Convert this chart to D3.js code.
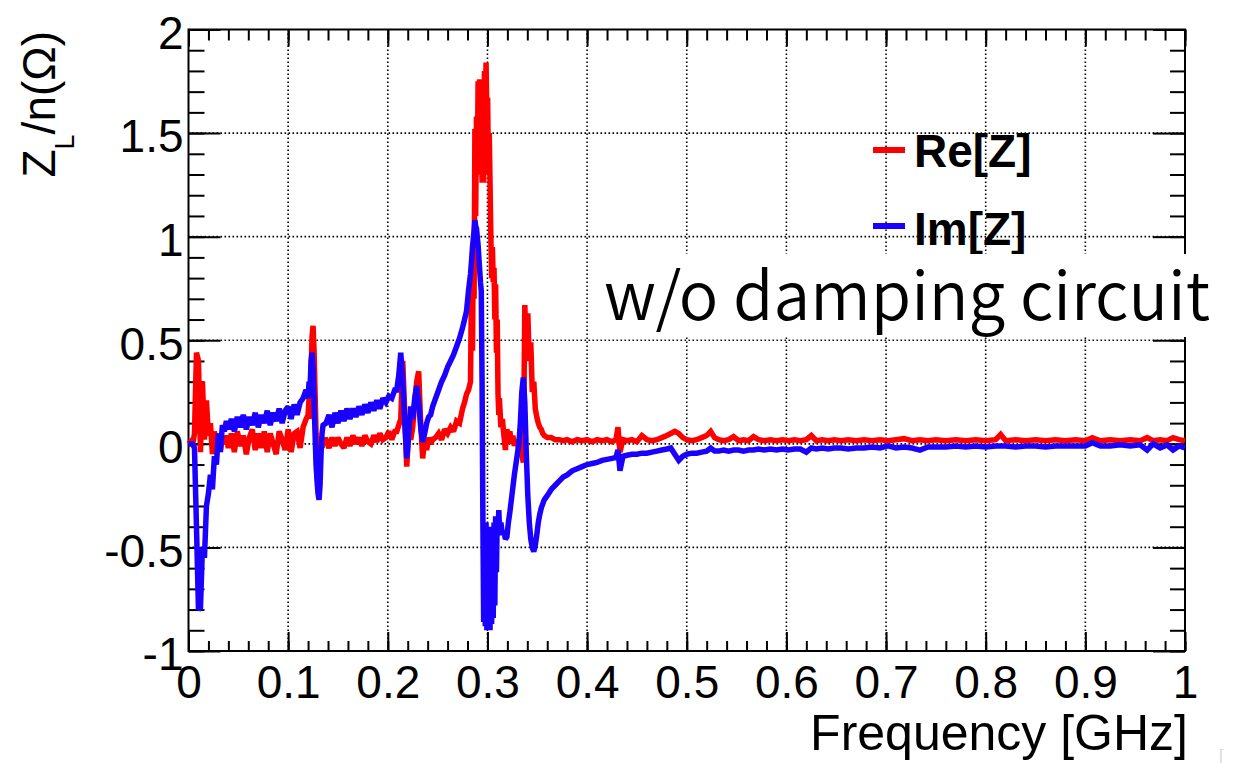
<!DOCTYPE html>
<html>
<head>
<meta charset="utf-8">
<script src="https://cdn.jsdelivr.net/npm/d3@7/dist/d3.min.js"></script>
<style>
  html, body { margin: 0; padding: 0; background: #fff; }
  svg { display: block; font-family: "Liberation Sans", Arial, Helvetica, sans-serif; }
</style>
</head>
<body>
<svg id="chart" width="1250" height="763"></svg>
<script>
// frequency points [GHz]
var freq = [
  0, 0.002, 0.004, 0.006, 0.008, 0.010, 0.012, 0.014, 0.016, 0.018, 0.020, 0.022, 0.024, 0.026, 0.028, 0.030, 0.032, 0.034, 0.036, 0.038, 0.040,
  0.043, 0.046, 0.049, 0.052, 0.055, 0.058, 0.061, 0.064, 0.067, 0.070, 0.073, 0.076, 0.079, 0.082, 0.085, 0.088, 0.091, 0.094, 0.097, 0.100, 0.103, 0.106, 0.109, 0.112, 0.115, 0.118,
  0.120, 0.121, 0.122, 0.123, 0.124, 0.125, 0.126, 0.127, 0.128, 0.129, 0.130, 0.131, 0.132, 0.133, 0.134, 0.135,
  0.138, 0.141, 0.144, 0.147, 0.150, 0.153, 0.156, 0.159, 0.162, 0.165, 0.168, 0.171, 0.174, 0.177, 0.180, 0.183, 0.186, 0.189, 0.192, 0.195, 0.198, 0.201, 0.204, 0.207,
  0.209, 0.211, 0.213, 0.215, 0.217, 0.219, 0.221, 0.223, 0.225, 0.227, 0.229, 0.231, 0.233, 0.235, 0.237, 0.239, 0.241, 0.243, 0.245,
  0.248, 0.251, 0.254, 0.257, 0.260, 0.263, 0.266, 0.269, 0.272, 0.275,
  0.277, 0.279, 0.281,
  0.283, 0.284, 0.285, 0.2858, 0.2866, 0.2874, 0.2882, 0.289, 0.2898, 0.2906, 0.2914, 0.2922, 0.293, 0.2938, 0.2946, 0.2954, 0.2962, 0.297, 0.2978, 0.2986,
  0.2994, 0.3002, 0.301, 0.3018, 0.3026, 0.3034, 0.3042, 0.305, 0.3058, 0.3066, 0.3074, 0.3082, 0.309, 0.3098, 0.3106, 0.3114, 0.312,
  0.3135, 0.315, 0.3165, 0.318, 0.3195, 0.321, 0.3225, 0.324, 0.3255, 0.327, 0.3285, 0.330, 0.3315, 0.333, 0.3345, 0.336, 0.3375,
  0.339, 0.3405, 0.342, 0.3435, 0.345, 0.3465, 0.348, 0.3495, 0.351, 0.3525, 0.354, 0.3555, 0.357, 0.360,
  0.364, 0.368, 0.372, 0.376, 0.380, 0.385, 0.390, 0.395, 0.400, 0.405,
  0.410, 0.415, 0.420, 0.425, 0.429, 0.431, 0.433, 0.436, 0.440, 0.445,
  0.450, 0.455, 0.460, 0.465, 0.470, 0.475, 0.480, 0.484, 0.488, 0.492,
  0.496, 0.500, 0.505, 0.510, 0.515, 0.520, 0.524, 0.528, 0.532, 0.537,
  0.542, 0.547, 0.552, 0.557, 0.562, 0.567, 0.572, 0.578, 0.584, 0.590,
  0.596, 0.602, 0.608, 0.614, 0.620, 0.625, 0.630, 0.636, 0.642, 0.648,
  0.655, 0.662, 0.670, 0.678, 0.686, 0.694, 0.702, 0.710, 0.718, 0.726,
  0.734, 0.742, 0.750, 0.760, 0.770, 0.780, 0.790, 0.800, 0.810, 0.815,
  0.820, 0.830, 0.840, 0.850, 0.860, 0.870, 0.880, 0.890, 0.900, 0.907,
  0.915, 0.925, 0.935, 0.945, 0.955, 0.962, 0.968, 0.975, 0.982, 0.988,
  0.994, 1.0
];

// Re[Z] (ohm)
var reZ = [
  0.00, 0.01, -0.01, 0.05, 0.44, 0.40, -0.04, 0.30, 0.02, 0.21, 0.04, 0.10, -0.05, 0.06, -0.02, 0.05, -0.03, 0.03, 0.00, 0.04, -0.02,
  0.05, -0.04, 0.06, -0.01, 0.04, -0.05, 0.03, 0.07, -0.03, 0.05, -0.02, 0.06, -0.04, 0.05, 0.00, -0.05, 0.06, 0.02, -0.03, 0.07, -0.04, 0.05, 0.06, -0.02, 0.08, 0.12,
  0.14, 0.22, 0.12, 0.35, 0.52, 0.57, 0.45, 0.25, 0.05, -0.03, -0.08, -0.11, -0.04, 0.03, -0.02, 0.02,
  0.02, -0.02, 0.03, -0.01, 0.03, 0.00, -0.02, 0.03, -0.01, 0.04, 0.00, 0.03, -0.01, 0.04, 0.01, 0.00, 0.04, 0.01, 0.05, 0.02, 0.03, 0.06, 0.02, 0.06,
  0.06, 0.09, 0.12, 0.40, 0.15, -0.11, 0.05, 0.02, 0.08, 0.20, 0.30, 0.35, 0.10, -0.07, 0.02, -0.03, 0.03, 0.00, 0.02,
  0.03, 0.05, 0.02, 0.07, 0.05, 0.08, 0.06, 0.11, 0.10, 0.17,
  0.20, 0.24, 0.26,
  0.30, 0.78, 0.45, 0.95, 0.70, 1.52, 1.10, 1.58, 1.30, 1.75, 1.45, 1.76, 1.50, 1.70, 1.26, 1.60, 1.26, 1.80, 1.55, 1.84,
  1.60, 1.67, 1.30, 1.50, 1.26, 1.00, 0.80, 0.95, 0.78, 0.85, 0.60, 0.77, 0.44, 0.60, 0.24, 0.14, 0.22,
  0.08, 0.12, 0.04, -0.03, 0.07, 0.03, 0.06, 0.00, 0.04, -0.01, 0.02, 0.00, -0.02, 0.04, -0.05, -0.09, 0.67,
  0.45, 0.63, 0.40, 0.49, 0.25, 0.30, 0.17, 0.13, 0.10, 0.08, 0.07, 0.05, 0.04, 0.03,
  0.03, 0.02, 0.02, 0.015, 0.02, 0.01, 0.02, 0.015, 0.02, 0.01,
  0.02, 0.015, 0.02, 0.01, 0.02, 0.08, -0.04, 0.02, 0.015, 0.02,
  0.01, 0.04, 0.02, 0.015, 0.02, 0.03, 0.04, 0.05, 0.06, 0.05,
  0.03, 0.02, 0.015, 0.02, 0.03, 0.04, 0.06, 0.03, 0.02, 0.015,
  0.02, 0.035, 0.015, 0.02, 0.015, 0.035, 0.02, 0.015, 0.02, 0.015,
  0.02, 0.015, 0.02, 0.015, 0.02, 0.04, 0.015, 0.02, 0.015, 0.02,
  0.015, 0.02, 0.015, 0.02, 0.015, 0.02, 0.015, 0.02, 0.025, 0.015,
  0.02, 0.015, 0.02, 0.015, 0.02, 0.015, 0.02, 0.015, 0.02, 0.045,
  0.015, 0.02, 0.015, 0.02, 0.015, 0.02, 0.015, 0.02, 0.015, 0.03,
  0.015, 0.02, 0.015, 0.02, 0.015, 0.03, 0.015, 0.02, 0.015, 0.03,
  0.02, 0.015
];

// Im[Z] (ohm)
var imZ = [
  0.00, 0.00, 0.00, -0.02, -0.40, -0.80, -0.79, -0.50, -0.55, -0.30, -0.24, -0.15, -0.22, -0.06, -0.10, 0.05, -0.04, 0.09, 0.06, 0.11, 0.07,
  0.12, 0.06, 0.13, 0.08, 0.14, 0.07, 0.13, 0.09, 0.15, 0.08, 0.14, 0.10, 0.16, 0.09, 0.15, 0.11, 0.17, 0.10, 0.16, 0.18, 0.12, 0.19, 0.14, 0.20, 0.22, 0.26,
  0.22, 0.30, 0.27, 0.40, 0.44, 0.36, 0.20, 0.05, -0.10, -0.18, -0.24, -0.27, -0.20, -0.05, 0.05, 0.09,
  0.10, 0.14, 0.08, 0.15, 0.10, 0.16, 0.11, 0.17, 0.12, 0.17, 0.13, 0.18, 0.14, 0.19, 0.15, 0.20, 0.16, 0.21, 0.17, 0.22, 0.20, 0.23, 0.22, 0.26,
  0.26, 0.33, 0.44, 0.30, 0.10, -0.07, 0.05, 0.18, 0.12, 0.22, 0.28, 0.20, 0.08, 0.01, 0.05, 0.10, 0.13, 0.14, 0.18,
  0.22, 0.26, 0.30, 0.33, 0.37, 0.40, 0.43, 0.47, 0.51, 0.56,
  0.60, 0.64, 0.74,
  0.82, 0.88, 0.95, 0.99, 1.03, 1.08, 1.05, 1.04, 1.00, 0.96, 0.90, 0.84, 0.78, 0.74, 0.30, -0.35, -0.86, -0.40, -0.88, -0.38,
  -0.90, -0.42, -0.89, -0.40, -0.90, -0.45, -0.87, -0.40, -0.84, -0.38, -0.78, -0.35, -0.62, -0.35, -0.42, -0.32, -0.40,
  -0.38, -0.44, -0.42, -0.46, -0.45, -0.38, -0.33, -0.27, -0.21, -0.15, -0.10, -0.05, 0.00, 0.10, 0.25, 0.32, 0.20,
  -0.05, -0.25, -0.38, -0.46, -0.50, -0.52, -0.49, -0.44, -0.38, -0.34, -0.31, -0.29, -0.27, -0.25,
  -0.22, -0.20, -0.18, -0.16, -0.15, -0.13, -0.12, -0.11, -0.10, -0.095,
  -0.09, -0.08, -0.075, -0.07, -0.065, -0.03, -0.13, -0.06, -0.055, -0.05,
  -0.05, -0.045, -0.045, -0.04, -0.035, -0.03, -0.025, -0.02, -0.05, -0.08,
  -0.06, -0.05, -0.045, -0.045, -0.04, -0.035, -0.02, -0.035, -0.035, -0.03,
  -0.035, -0.03, -0.03, -0.035, -0.03, -0.03, -0.025, -0.03, -0.025, -0.03,
  -0.025, -0.03, -0.025, -0.025, -0.04, -0.02, -0.025, -0.02, -0.025, -0.02,
  -0.02, -0.025, -0.02, -0.02, -0.015, -0.02, -0.01, -0.02, -0.015, -0.02,
  -0.03, -0.015, -0.015, -0.015, -0.01, -0.015, -0.01, -0.015, -0.01, -0.01,
  -0.01, -0.015, -0.01, -0.01, -0.015, -0.01, -0.01, -0.01, -0.01, 0.005,
  -0.01, -0.01, -0.005, -0.01, -0.005, -0.03, 0.00, -0.02, -0.005, -0.03,
  -0.01, -0.02
];

var xTicks = [0, 0.1, 0.2, 0.3, 0.4, 0.5, 0.6, 0.7, 0.8, 0.9, 1];
var xTickLabels = ['0', '0.1', '0.2', '0.3', '0.4', '0.5', '0.6', '0.7', '0.8', '0.9', '1'];
var yTicks = [-1, -0.5, 0, 0.5, 1, 1.5, 2];
var yTickLabels = ['-1', '-0.5', '0', '0.5', '1', '1.5', '2'];
var seriesNames = ['Re[Z]', 'Im[Z]'];
var seriesColors = ['#ff0000', '#1a00ff'];

(function () {
  var svg = d3.select('#chart'),
      pl = 188.5, pr = 1185, pt = 29.5, pb = 651,
      x = d3.scaleLinear().domain([0, 1]).range([pl, pr]),
      y = d3.scaleLinear().domain([-1, 2]).range([pb, pt]);

  if (reZ.length !== freq.length || imZ.length !== freq.length) {
    console.error('length mismatch', freq.length, reZ.length, imZ.length);
  }

  // dotted grid
  var grid = svg.append('g').attr('stroke', '#000').attr('stroke-width', 1.6).attr('stroke-dasharray', '1.6 2.4');
  grid.selectAll('line.gx').data(xTicks.slice(1, -1)).enter().append('line')
    .attr('x1', function (d) { return x(d); }).attr('x2', function (d) { return x(d); })
    .attr('y1', pt).attr('y2', pb);
  grid.selectAll('line.gy').data(yTicks.slice(1, -1)).enter().append('line')
    .attr('y1', function (d) { return y(d); }).attr('y2', function (d) { return y(d); })
    .attr('x1', pl).attr('x2', pr);

  function strip(g) {
    g.select('.domain').remove();
    g.selectAll('line').attr('stroke', '#000').attr('stroke-width', 2);
  }

  // axes (ticks on all four sides, ROOT style)
  svg.append('g').attr('transform', 'translate(0,' + pb + ')')
    .call(d3.axisBottom(x).ticks(50).tickSize(-10).tickFormat('')).call(strip);
  var xAxis = svg.append('g').attr('transform', 'translate(0,' + pb + ')')
    .call(d3.axisBottom(x).tickValues(xTicks).tickSize(-19).tickPadding(14)
      .tickFormat(function (d, i) { return xTickLabels[i]; })).call(strip);
  svg.append('g').attr('transform', 'translate(0,' + pt + ')')
    .call(d3.axisTop(x).ticks(50).tickSize(-11).tickFormat('')).call(strip);
  svg.append('g').attr('transform', 'translate(0,' + pt + ')')
    .call(d3.axisTop(x).tickValues(xTicks).tickSize(-17).tickFormat('')).call(strip);

  svg.append('g').attr('transform', 'translate(' + pl + ',0)')
    .call(d3.axisLeft(y).ticks(30).tickSize(-16).tickFormat('')).call(strip);
  var yAxis = svg.append('g').attr('transform', 'translate(' + pl + ',0)')
    .call(d3.axisLeft(y).tickValues(yTicks).tickSize(-32).tickPadding(5)
      .tickFormat(function (d, i) { return yTickLabels[i]; })).call(strip);
  svg.append('g').attr('transform', 'translate(' + pr + ',0)')
    .call(d3.axisRight(y).ticks(30).tickSize(-15).tickFormat('')).call(strip);
  svg.append('g').attr('transform', 'translate(' + pr + ',0)')
    .call(d3.axisRight(y).tickValues(yTicks).tickSize(-32).tickFormat('')).call(strip);

  xAxis.selectAll('text').attr('font-size', 46).attr('fill', '#000')
    .attr('font-family', '"Liberation Sans", Arial, sans-serif');
  yAxis.selectAll('text').attr('font-size', 46).attr('fill', '#000').attr('dy', '0.41em')
    .attr('font-family', '"Liberation Sans", Arial, sans-serif');

  // frame
  svg.append('rect').attr('x', pl).attr('y', pt)
    .attr('width', pr - pl).attr('height', pb - pt)
    .attr('fill', 'none').attr('stroke', '#000').attr('stroke-width', 2);

  // curves
  var line = d3.line()
    .x(function (d) { return x(d[0]); })
    .y(function (d) { return y(d[1]); });

  [reZ, imZ].forEach(function (vals, k) {
    svg.append('path')
      .datum(freq.map(function (f, i) { return [f, vals[i]]; }))
      .attr('d', line)
      .attr('fill', 'none')
      .attr('stroke', seriesColors[k])
      .attr('stroke-width', 5.5)
      .attr('stroke-linejoin', 'miter')
      .attr('stroke-miterlimit', 2);
  });

  // legend
  var legendY = [150, 226], legendBase = [167, 245];
  seriesNames.forEach(function (name, k) {
    svg.append('line').attr('x1', 873).attr('x2', 905)
      .attr('y1', legendY[k]).attr('y2', legendY[k])
      .attr('stroke', seriesColors[k]).attr('stroke-width', 6);
    svg.append('text').attr('x', 914).attr('y', legendBase[k])
      .attr('font-size', 46).attr('font-weight', 'bold').attr('fill', '#000')
      .text(name);
  });

  // axis titles
  svg.append('text').attr('x', pr + 3).attr('y', 750)
    .attr('text-anchor', 'end').attr('font-size', 50).attr('fill', '#000')
    .text('Frequency [GHz]');

  var yTitle = svg.append('text')
    .attr('transform', 'translate(55,31) rotate(-90)')
    .attr('text-anchor', 'end').attr('font-size', 46).attr('fill', '#000');
  yTitle.append('tspan').text('Z');
  yTitle.append('tspan').attr('font-size', 27).attr('dy', 19).text('L');
  yTitle.append('tspan').attr('dy', -19).text('/n(\u03A9)');

  // annotation with white backing
  svg.append('rect').attr('x', 592).attr('y', 254).attr('width', 658).attr('height', 83).attr('fill', '#fff');
  svg.append('text').attr('x', 604).attr('y', 320)
    .attr('font-family', '"Noto Sans CJK JP", "Noto Sans", sans-serif')
    .attr('font-weight', 350).attr('font-size', 66).attr('fill', '#000')
    .attr('textLength', 606).attr('lengthAdjust', 'spacingAndGlyphs')
    .text('w/o damping circuit');

  svg.append('text').attr('x', 1219).attr('y', 761).attr('font-size', 16).attr('fill', '#d8d8d8').text('[');
})();
</script>
</body>
</html>
